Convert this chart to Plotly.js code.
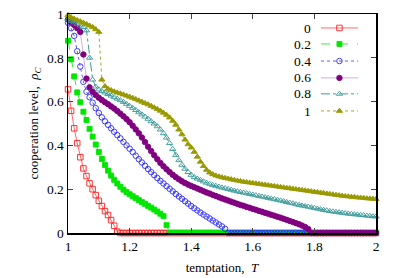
<!DOCTYPE html>
<html>
<head>
<meta charset="utf-8">
<script src="https://cdn.plot.ly/plotly-3.0.1.min.js"></script>
<style>html,body{margin:0;padding:0;background:#fff}#chart{width:409px;height:278px}</style>
</head>
<body>
<div id="chart"></div>
<script>
var T = [1.00,1.01,1.02,1.03,1.04,1.05,1.06,1.07,1.08,1.09,
1.10,1.11,1.12,1.13,1.14,1.15,1.16,1.17,1.18,1.19,
1.20,1.21,1.22,1.23,1.24,1.25,1.26,1.27,1.28,1.29,
1.30,1.31,1.32,1.33,1.34,1.35,1.36,1.37,1.38,1.39,
1.40,1.41,1.42,1.43,1.44,1.45,1.46,1.47,1.48,1.49,
1.50,1.51,1.52,1.53,1.54,1.55,1.56,1.57,1.58,1.59,
1.60,1.61,1.62,1.63,1.64,1.65,1.66,1.67,1.68,1.69,
1.70,1.71,1.72,1.73,1.74,1.75,1.76,1.77,1.78,1.79,
1.80,1.81,1.82,1.83,1.84,1.85,1.86,1.87,1.88,1.89,
1.90,1.91,1.92,1.93,1.94,1.95,1.96,1.97,1.98,1.99,2.00];

var labels = ["0","0.2","0.4","0.6","0.8","1"];

var rho0 = [0.656,0.558,0.478,0.41,0.346,0.295,0.26,0.227,0.2,0.173,
0.147,0.123,0.1,0.082,0.059,0.033,0.006,0,0,0,
0,0,0,0,0,0,0,0,0,0, 0,0,0,0,0,0,0,0,0,0,
0,0,0,0,0,0,0,0,0,0, 0,0,0,0,0,0,0,0,0,0,
0,0,0,0,0,0,0,0,0,0, 0,0,0,0,0,0,0,0,0,0,
0,0,0,0,0,0,0,0,0,0, 0,0,0,0,0,0,0,0,0,0,0];

var rho02 = [0.878,0.793,0.715,0.642,0.597,0.554,0.516,0.476,0.44,0.404,
0.37,0.338,0.31,0.285,0.262,0.243,0.226,0.211,0.198,0.187,
0.177,0.168,0.159,0.15,0.141,0.133,0.124,0.116,0.107,0.098,
0.088,0.077,0.036,0,0,0,0,0,0,0,
0,0,0,0,0,0,0,0,0,0, 0,0,0,0,0,0,0,0,0,0,
0,0,0,0,0,0,0,0,0,0, 0,0,0,0,0,0,0,0,0,0,
0,0,0,0,0,0,0,0,0,0, 0,0,0,0,0,0,0,0,0,0,0];

var rho04 = [0.96,0.935,0.90,0.83,0.76,0.69,0.645,0.62,0.595,0.57,
0.548,0.528,0.51,0.494,0.478,0.462,0.447,0.432,0.416,0.4,
0.385,0.37,0.353,0.337,0.322,0.307,0.292,0.278,0.264,0.251,
0.238,0.226,0.214,0.202,0.19,0.178,0.167,0.156,0.145,0.134,
0.123,0.113,0.103,0.093,0.084,0.075,0.066,0.057,0.048,0.039,
0.03,0.019,0,0,0,0,0,0,0,0,
0,0,0,0,0,0,0,0,0,0, 0,0,0,0,0,0,0,0,0,0,
0,0,0,0,0,0,0,0,0,0, 0,0,0,0,0,0,0,0,0,0,0];

var rho06 = [0.975,0.962,0.95,0.935,0.918,0.815,0.705,0.665,0.645,0.63,
0.618,0.607,0.597,0.588,0.578,0.568,0.557,0.545,0.533,0.52,
0.506,0.49,0.473,0.455,0.436,0.415,0.394,0.374,0.355,0.337,
0.32,0.305,0.291,0.278,0.266,0.255,0.245,0.236,0.228,0.221,
0.215,0.209,0.203,0.197,0.191,0.185,0.18,0.174,0.169,0.163,
0.158,0.153,0.148,0.143,0.138,0.133,0.128,0.124,0.119,0.115,
0.11,0.106,0.101,0.097,0.092,0.088,0.083,0.079,0.074,0.07,
0.065,0.06,0.055,0.05,0.045,0.04,0.034,0.027,0.018,0,
0,0,0,0,0,0,0,0,0,0, 0,0,0,0,0,0,0,0,0,0,0];

var rho08 = [0.975,0.968,0.961,0.954,0.947,0.94,0.925,0.80,0.70,0.668,
0.655,0.648,0.641,0.634,0.627,0.62,0.613,0.606,0.598,0.589,
0.58,0.571,0.561,0.551,0.541,0.531,0.521,0.51,0.499,0.487,
0.472,0.455,0.435,0.41,0.383,0.356,0.332,0.311,0.293,0.278,
0.265,0.255,0.248,0.242,0.235,0.229,0.224,0.219,0.215,0.211,
0.207,0.204,0.2,0.197,0.193,0.19,0.187,0.184,0.181,0.178,
0.175,0.172,0.169,0.166,0.163,0.16,0.157,0.154,0.151,0.148,
0.145,0.141,0.138,0.135,0.131,0.128,0.125,0.122,0.12,0.117,
0.114,0.111,0.108,0.105,0.103,0.1,0.098,0.096,0.094,0.092,
0.09,0.088,0.087,0.085,0.084,0.082,0.081,0.079,0.078,0.076,0.075];

var rho1 = [0.995,0.985,0.978,0.972,0.966,0.96,0.954,0.947,0.94,0.93,
0.918,0.70,0.67,0.658,0.652,0.646,0.641,0.637,0.632,0.627,
0.622,0.617,0.611,0.605,0.599,0.593,0.587,0.58,0.573,0.566,
0.558,0.549,0.539,0.527,0.512,0.494,0.472,0.45,0.426,0.405,
0.39,0.37,0.348,0.325,0.305,0.288,0.276,0.268,0.262,0.258,
0.254,0.251,0.248,0.245,0.242,0.239,0.237,0.234,0.232,0.23,
0.228,0.226,0.224,0.222,0.22,0.218,0.216,0.214,0.212,0.21,
0.208,0.206,0.204,0.202,0.2,0.198,0.196,0.194,0.192,0.19,
0.188,0.186,0.184,0.182,0.18,0.178,0.176,0.174,0.172,0.17,
0.168,0.167,0.165,0.164,0.162,0.161,0.16,0.158,0.157,0.156,0.155];

var series = [rho0, rho02, rho04, rho06, rho08, rho1];
var markerColors = ["#ff2020","#00e600","#2a2aff","#800080","#3a9a9a","#999900"];
var lineColors = ["rgba(255,40,40,0.7)","#33ee33","#5a5aff","rgba(150,60,150,0.4)","#3a9a9a","#a6a630"];
var symbols = ["square-open","square","circle-open","circle","triangle-up-open","triangle-up"];
var dashes = ["solid","dash","dot","solid","dashdot","dot"];
var sizes = [5.5,5,5.5,5.5,5.5,5.5];

var legendNames = ["legend","legend2","legend3","legend4","legend5","legend6"];
var rowY = [0.936,0.863,0.785,0.708,0.635,0.557];

var traces = series.map(function(s, i){
  return {
    x: T, y: s, type: "scatter", mode: "lines+markers",
    name: " ", legend: legendNames[i], cliponaxis: false,
    line: {color: lineColors[i], width: 1, dash: dashes[i]},
    marker: {symbol: symbols[i], size: sizes[i], color: markerColors[i],
             line: {color: markerColors[i], width: 0.9}}
  };
});

var layout = {
  width: 409, height: 278,
  margin: {l: 68, r: 33, t: 14, b: 45},
  paper_bgcolor: "#fff", plot_bgcolor: "#fff",
  font: {family: "Liberation Serif, Times New Roman, serif", size: 13, color: "#000"},
  showlegend: true,
  xaxis: {
    range: [1, 2], dtick: 0.2, tick0: 1, ticks: "inside", ticklen: 5, tickwidth: 1,
    showline: true, linecolor: "#000", linewidth: 1.5, mirror: "ticks",
    showgrid: false, zeroline: false,
    tickfont: {size: 13.5},
    title: {text: "temptation,  <i>T</i>", font: {size: 13}, standoff: 10}
  },
  yaxis: {
    range: [0, 1], dtick: 0.2, tick0: 0, ticks: "inside", ticklen: 5, tickwidth: 1,
    showline: true, linecolor: "#000", linewidth: 1.5, mirror: "ticks",
    showgrid: false, zeroline: false,
    tickfont: {size: 13.5},
    title: {text: "cooperation level,  <i>ρ</i><sub><i>C</i></sub>", font: {size: 13}, standoff: 5}
  },
  annotations: labels.map(function(l, i){
    return {text: l, xref: "paper", yref: "paper", x: 0.797, y: rowY[i],
            xanchor: "right", yanchor: "middle", showarrow: false,
            font: {size: 13.5}};
  })
};
legendNames.forEach(function(n, i){
  layout[n] = {x: 0.805, y: rowY[i], xanchor: "left", yanchor: "middle",
               bgcolor: "rgba(0,0,0,0)", borderwidth: 0, itemwidth: 37,
               font: {size: 13}};
});

Plotly.newPlot("chart", traces, layout, {displayModeBar: false, staticPlot: true});
</script>
</body>
</html>
